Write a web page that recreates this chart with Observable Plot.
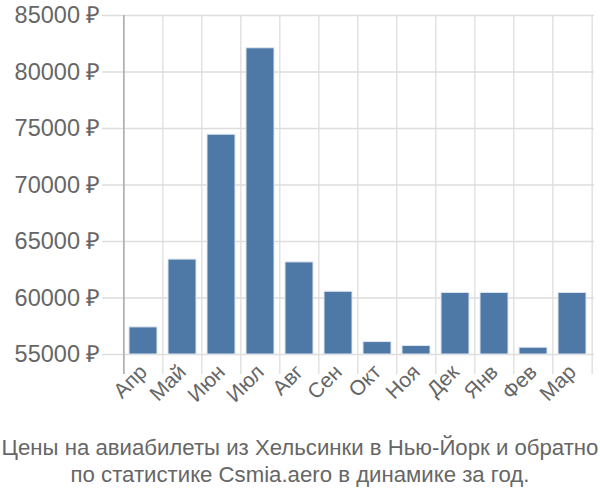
<!DOCTYPE html>
<html>
<head>
<meta charset="utf-8">
<script src="https://cdn.jsdelivr.net/npm/d3@7"></script>
<script src="https://cdn.jsdelivr.net/npm/@observablehq/plot@0.6"></script>
<style>
  body { margin: 0; background: #fff; font-family: "Liberation Sans", Arial, sans-serif; }
  #caption { width: 600px; text-align: center; color: #666; font-size: 22.2px; line-height: 27px; margin-top: 4px; white-space: nowrap; }
</style>
</head>
<body>
<div id="chart"></div>
<div id="caption">Цены на авиабилеты из Хельсинки в Нью-Йорк и обратно<br>по статистике Csmia.aero в динамике за год.</div>
<script>
const months = ["Апр","Май","Июн","Июл","Авг","Сен","Окт","Ноя","Дек","Янв","Фев","Мар"];
const prices = [57400, 63400, 74450, 82100, 63150, 60550, 56100, 55750, 60450, 60450, 55600, 60450];
const yTicks = [55000, 60000, 65000, 70000, 75000, 80000, 85000];
const yMin = 55000, yMax = 85000;

const data = months.map((m, i) => ({month: m, price: prices[i]}));

const W = 600, H = 430, mL = 122, mR = 6, mT = 15, mB = 76;
const step = (W - mL - mR) / months.length;

const chart = Plot.plot({
  width: W, height: H,
  marginLeft: mL, marginRight: mR, marginTop: mT, marginBottom: mB,
  style: {fontFamily: "Liberation Sans, Arial, sans-serif", color: "#666", background: "#fff"},
  x: {domain: months, paddingInner: 0.28, paddingOuter: 0.14, label: null},
  y: {domain: [yMin, yMax], label: null},
  marks: [
    Plot.ruleY(yTicks, {y: d => d, stroke: "#ddd", strokeWidth: 1.3, insetLeft: -20}),
    Plot.ruleX(months, {x: d => d, dx: -step / 2, stroke: "#ddd", strokeWidth: 1.3, insetBottom: -20}),
    Plot.ruleX([months[months.length - 1]], {x: d => d, dx: step / 2, stroke: "#ddd", strokeWidth: 1.3, insetBottom: -20}),
    Plot.ruleX([months[0]], {x: d => d, dx: -step / 2, stroke: "#aaa", strokeWidth: 1.5, insetBottom: -20}),
    Plot.barY(data, {x: "month", y1: yMin, y2: "price", fill: "#4e79a7", stroke: "#dfe7f0", strokeWidth: 1}),
    Plot.axisY({ticks: yTicks, tickSize: 0, tickPadding: 22, tickFormat: d => d + " ₽", fill: "#666"}),
    Plot.axisX({tickSize: 0, tickPadding: 14, tickRotate: -45, fill: "#666"})
  ]
});
chart.querySelectorAll("text").forEach(t => {
  const txt = t.textContent;
  const size = txt.includes("₽") ? "23.5px" : "21px";
  t.style.setProperty("font-size", size, "important");
});
document.getElementById("chart").appendChild(chart);
</script>
</body>
</html>
